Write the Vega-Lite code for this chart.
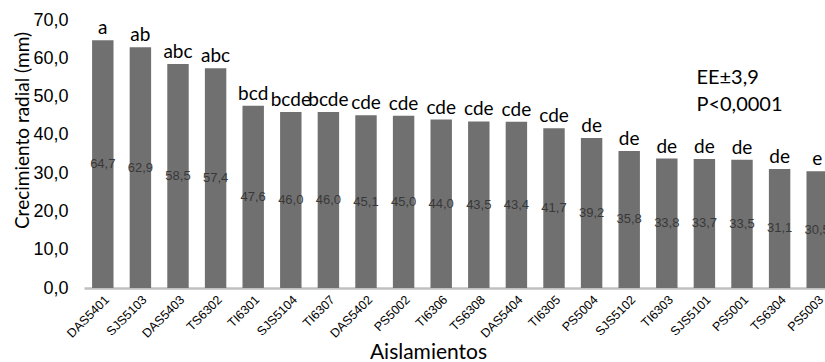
{
  "$schema": "https://vega.github.io/schema/vega-lite/v6.json",
  "width": 741,
  "height": 268,
  "autosize": {"type": "none"},
  "padding": {"left": 84, "top": 20, "right": 0, "bottom": 74},
  "background": "white",
  "config": {
    "view": {"stroke": null},
    "locale": {"number": {"decimal": ",", "thousands": ".", "grouping": [3], "currency": ["", " €"]}}
  },
  "datasets": {
    "bars": [
      {"Aislamiento": "DAS5401", "valor": 64.7, "letra": "a"},
      {"Aislamiento": "SJS5103", "valor": 62.9, "letra": "ab"},
      {"Aislamiento": "DAS5403", "valor": 58.5, "letra": "abc"},
      {"Aislamiento": "TS6302", "valor": 57.4, "letra": "abc"},
      {"Aislamiento": "TI6301", "valor": 47.6, "letra": "bcd"},
      {"Aislamiento": "SJS5104", "valor": 46.0, "letra": "bcde"},
      {"Aislamiento": "TI6307", "valor": 46.0, "letra": "bcde"},
      {"Aislamiento": "DAS5402", "valor": 45.1, "letra": "cde"},
      {"Aislamiento": "PS5002", "valor": 45.0, "letra": "cde"},
      {"Aislamiento": "TI6306", "valor": 44.0, "letra": "cde"},
      {"Aislamiento": "TS6308", "valor": 43.5, "letra": "cde"},
      {"Aislamiento": "DAS5404", "valor": 43.4, "letra": "cde"},
      {"Aislamiento": "TI6305", "valor": 41.7, "letra": "cde"},
      {"Aislamiento": "PS5004", "valor": 39.2, "letra": "de"},
      {"Aislamiento": "SJS5102", "valor": 35.8, "letra": "de"},
      {"Aislamiento": "TI6303", "valor": 33.8, "letra": "de"},
      {"Aislamiento": "SJS5101", "valor": 33.7, "letra": "de"},
      {"Aislamiento": "PS5001", "valor": 33.5, "letra": "de"},
      {"Aislamiento": "TS6304", "valor": 31.1, "letra": "de"},
      {"Aislamiento": "PS5003", "valor": 30.5, "letra": "e"}
    ],
    "notes": [
      {"Aislamiento": "SJS5101", "valor": 54.8, "texto": "EE±3,9"},
      {"Aislamiento": "SJS5101", "valor": 47.7, "texto": "P<0,0001"}
    ]
  },
  "encoding": {
    "x": {
      "field": "Aislamiento", "type": "nominal", "sort": null,
      "scale": {
        "domain": ["DAS5401","SJS5103","DAS5403","TS6302","TI6301","SJS5104","TI6307","DAS5402","PS5002","TI6306","TS6308","DAS5404","TI6305","PS5004","SJS5102","TI6303","SJS5101","PS5001","TS6304","PS5003"],
        "range": [0, 752], "paddingInner": 0.43, "paddingOuter": 0.215
      },
      "axis": {
        "title": "Aislamientos", "titleFont": "Lato", "titleFontSize": 21, "titleFontWeight": "normal", "titleColor": "#000",
        "titleX": 344, "titleY": 53, "titleAnchor": "middle", "titleBaseline": "top",
        "labelAngle": -45, "labelFont": "Liberation Sans", "labelFontSize": 12.5, "labelColor": "#000",
        "labelPadding": 5, "ticks": false, "domainColor": "#c0c0c0", "domainWidth": 2.5, "grid": false
      }
    }
  },
  "layer": [
    {
      "encoding": {
        "y": {
          "field": "valor", "type": "quantitative",
          "scale": {"domain": [0, 70], "nice": false},
          "axis": {
            "title": "Crecimiento radial (mm)", "titleFont": "Lato", "titleFontSize": 19, "titleFontWeight": "normal", "titleColor": "#000",
            "titleX": -52, "titleY": 110,
            "values": [0, 10, 20, 30, 40, 50, 60, 70], "format": ".1f", "labelOverlap": false,
            "labelFont": "Liberation Sans", "labelFontSize": 18, "labelColor": "#000",
            "labelPadding": 16, "ticks": false, "domain": false, "grid": false
          }
        }
      },
      "layer": [
        {
          "data": {"name": "bars"},
          "mark": {"type": "bar", "color": "#707070"}
        },
        {
          "data": {"name": "bars"},
          "mark": {"type": "text", "font": "Lato", "fontSize": 19, "color": "#000", "baseline": "alphabetic", "dy": -6},
          "encoding": {"text": {"field": "letra"}}
        },
        {
          "data": {"name": "notes"},
          "mark": {"type": "text", "font": "Lato", "fontSize": 20, "color": "#000", "align": "left", "baseline": "middle", "dx": -8},
          "encoding": {"text": {"field": "texto"}}
        }
      ]
    },
    {
      "data": {"name": "bars"},
      "mark": {"type": "text", "font": "Liberation Sans", "fontSize": 13, "color": "#383838", "baseline": "middle"},
      "encoding": {
        "y": {"field": "valor", "type": "quantitative", "scale": {"domain": [0, 140], "nice": false}, "axis": null},
        "text": {"field": "valor", "format": ".1f"}
      }
    }
  ],
  "resolve": {"scale": {"y": "independent"}, "axis": {"y": "independent"}}
}
